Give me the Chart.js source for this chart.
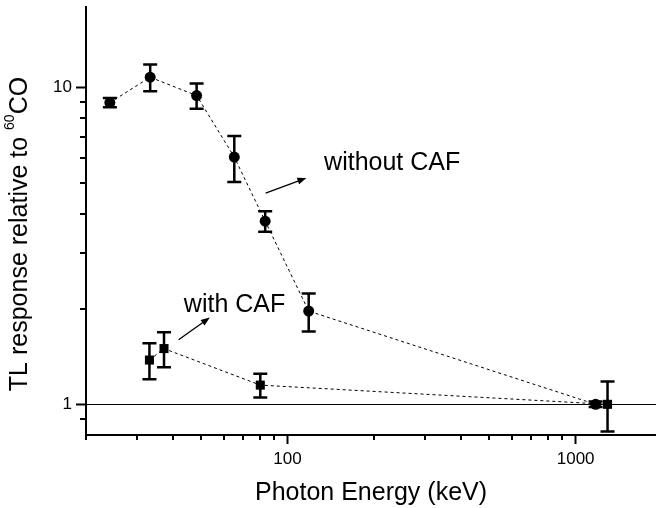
<!DOCTYPE html>
<html>
<head>
<meta charset="utf-8">
<script src="https://cdn.jsdelivr.net/npm/chart.js@4"></script>
<style>
  html, body { margin: 0; padding: 0; background: #fff; }
  #chart { display: block; }
</style>
</head>
<body>
<canvas id="chart" width="656" height="508"></canvas>
<script>
// TL response relative to 60Co vs photon energy (keV)
const energyNoCaf = [24.2, 33.4, 48.4, 65.4, 83.7, 118.5, 1173];
const responseNoCaf = [8.98, 10.8, 9.45, 6.04, 3.79, 1.97, 1.0];
const errorNoCaf = [0.3, 1.05, 0.86, 1.0, 0.28, 0.27, 0.02];

const energyCaf = [33.2, 37.3, 80.5, 1290];
const responseCaf = [1.38, 1.5, 1.15, 1.0];
const errorCaf = [0.18, 0.19, 0.1, 0.18];

const xTicks = [20, 30, 40, 50, 60, 70, 80, 90, 100, 200, 300, 400, 500, 600, 700, 800, 900, 1000];
const yTicks = [0.9, 1, 2, 3, 4, 5, 6, 7, 8, 9, 10];
const referenceLevel = 1;

const FONT = '"Liberation Sans", Arial, Helvetica, sans-serif';

const isMajor = v => Math.abs(Math.log10(v) - Math.round(Math.log10(v))) < 1e-9;

// label text + arrow, placed in data coordinates
const notes = [
  { text: 'without CAF', at: [134, 5.8], from: [84, 4.65], to: [116.3, 5.19] },
  { text: 'with CAF', at: [43.7, 2.06], from: [41.9, 1.6], to: [53.8, 1.88] },
];

const extras = {
  id: 'extras',
  beforeDatasetsDraw(chart) {
    const { ctx, chartArea, scales: { x, y } } = chart;
    ctx.save();
    // reference line at 1
    const yRef = Math.round(y.getPixelForValue(referenceLevel)) + 0.5;
    ctx.strokeStyle = '#000';
    ctx.lineWidth = 1;
    ctx.beginPath();
    ctx.moveTo(chartArea.left, yRef);
    ctx.lineTo(chartArea.right, yRef);
    ctx.stroke();

    // error bars
    ctx.lineWidth = 2.5;
    chart.data.datasets.forEach(ds => {
      ds.data.forEach((p, i) => {
        const e = ds.errors[i];
        const px = x.getPixelForValue(p.x);
        const top = y.getPixelForValue(p.y + e);
        const bot = y.getPixelForValue(p.y - e);
        ctx.beginPath();
        ctx.moveTo(px, top); ctx.lineTo(px, bot);
        ctx.moveTo(px - 7, top); ctx.lineTo(px + 7, top);
        ctx.moveTo(px - 7, bot); ctx.lineTo(px + 7, bot);
        ctx.stroke();
      });
    });
    ctx.restore();
  },
  afterDraw(chart) {
    const { ctx, chartArea, scales: { x, y } } = chart;
    ctx.save();
    ctx.strokeStyle = '#000';
    ctx.fillStyle = '#000';

    // minor tick marks (shorter than the major ones)
    ctx.lineWidth = 2;
    ctx.beginPath();
    xTicks.filter(v => !isMajor(v)).forEach(v => {
      const px = Math.round(x.getPixelForValue(v));
      ctx.moveTo(px, chartArea.bottom);
      ctx.lineTo(px, chartArea.bottom + 5);
    });
    yTicks.filter(v => !isMajor(v)).forEach(v => {
      const py = Math.round(y.getPixelForValue(v));
      ctx.moveTo(chartArea.left, py);
      ctx.lineTo(chartArea.left - 6, py);
    });
    ctx.stroke();

    // annotations
    ctx.font = '25px ' + FONT;
    ctx.textBaseline = 'middle';
    ctx.textAlign = 'left';
    ctx.lineWidth = 1.3;
    notes.forEach(n => {
      ctx.fillText(n.text, x.getPixelForValue(n.at[0]), y.getPixelForValue(n.at[1]));
      const x0 = x.getPixelForValue(n.from[0]), y0 = y.getPixelForValue(n.from[1]);
      const x1 = x.getPixelForValue(n.to[0]), y1 = y.getPixelForValue(n.to[1]);
      const a = Math.atan2(y1 - y0, x1 - x0);
      ctx.beginPath();
      ctx.moveTo(x0, y0);
      ctx.lineTo(x1 - 6 * Math.cos(a), y1 - 6 * Math.sin(a));
      ctx.stroke();
      ctx.beginPath();
      ctx.moveTo(x1, y1);
      ctx.lineTo(x1 - 9 * Math.cos(a) + 3.5 * Math.sin(a), y1 - 9 * Math.sin(a) - 3.5 * Math.cos(a));
      ctx.lineTo(x1 - 9 * Math.cos(a) - 3.5 * Math.sin(a), y1 - 9 * Math.sin(a) + 3.5 * Math.cos(a));
      ctx.closePath();
      ctx.fill();
    });

    // y axis title with superscript
    const big = '25px ' + FONT, small = '14px ' + FONT;
    const parts = [['TL response relative to ', big, 0], ['60', small, -10], ['CO', big, 0]];
    let total = 0;
    parts.forEach(p => { ctx.font = p[1]; total += ctx.measureText(p[0]).width; });
    ctx.translate(20, 234);
    ctx.rotate(-Math.PI / 2);
    let cx = -total / 2;
    parts.forEach(p => {
      ctx.font = p[1];
      ctx.fillText(p[0], cx, p[2]);
      cx += ctx.measureText(p[0]).width;
    });
    ctx.restore();
  }
};

const tickColor = c => (c.tick && isMajor(c.tick.value)) ? '#000' : 'rgba(0,0,0,0)';

new Chart(document.getElementById('chart'), {
  type: 'scatter',
  data: {
    datasets: [
      {
        label: 'without CAF',
        data: energyNoCaf.map((e, i) => ({ x: e, y: responseNoCaf[i] })),
        errors: errorNoCaf,
        showLine: true,
        borderColor: '#000',
        borderWidth: 1,
        borderDash: [3, 3],
        pointStyle: 'circle',
        pointRadius: 5.5,
        pointBorderWidth: 0,
        pointBackgroundColor: '#000',
      },
      {
        label: 'with CAF',
        data: energyCaf.map((e, i) => ({ x: e, y: responseCaf[i] })),
        errors: errorCaf,
        showLine: true,
        borderColor: '#000',
        borderWidth: 1,
        borderDash: [3, 3],
        pointStyle: 'rect',
        pointRadius: 6.4,
        pointBorderWidth: 0,
        pointBackgroundColor: '#000',
      },
    ],
  },
  options: {
    responsive: false,
    animation: false,
    layout: { autoPadding: false, padding: { top: 7, right: 0, left: 0, bottom: 0 } },
    plugins: { legend: { display: false }, tooltip: { enabled: false } },
    scales: {
      x: {
        type: 'logarithmic',
        min: 20,
        max: 1900,
        afterBuildTicks: s => { s.ticks = xTicks.map(v => ({ value: v })); },
        afterFit: s => { s.height = 73; s.paddingLeft = 0; s.paddingRight = 0; },
        grid: { drawOnChartArea: false, tickLength: 9, tickWidth: 2, tickColor },
        border: { display: true, color: '#000', width: 2 },
        ticks: {
          autoSkip: false, maxRotation: 0, padding: 5, color: '#000',
          font: { size: 17, family: FONT },
          callback: v => isMajor(v) ? String(v) : '',
        },
        title: {
          display: true, text: 'Photon Energy (keV)', color: '#000',
          font: { size: 25, family: FONT }, padding: { top: 0, bottom: 0 },
        },
      },
      y: {
        type: 'logarithmic',
        min: 0.8,
        max: 18,
        afterBuildTicks: s => { s.ticks = yTicks.map(v => ({ value: v })); },
        afterFit: s => { s.width = 86; s.paddingTop = 0; s.paddingBottom = 0; },
        grid: { drawOnChartArea: false, tickLength: 10, tickWidth: 2, tickColor },
        border: { display: true, color: '#000', width: 2 },
        ticks: {
          autoSkip: false, padding: 4, color: '#000',
          font: { size: 17, family: FONT },
          callback: v => isMajor(v) ? String(v) : '',
        },
      },
    },
  },
  plugins: [extras],
});
</script>
</body>
</html>
